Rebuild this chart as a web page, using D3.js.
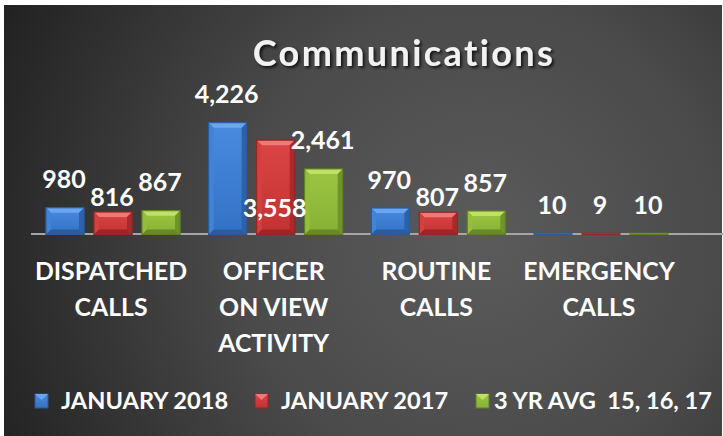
<!DOCTYPE html>
<html><head><meta charset="utf-8">
<script src="https://cdn.jsdelivr.net/npm/d3@7/dist/d3.min.js"></script>
<style>html,body{margin:0;padding:0;background:#fff;overflow:hidden}svg{display:block}</style>
</head><body>
<svg id="chart" width="723" height="436"></svg>
<script>
// ---- data ----
const categories = ["DISPATCHED CALLS", "OFFICER ON VIEW ACTIVITY", "ROUTINE CALLS", "EMERGENCY CALLS"];
const categoryLines = [["DISPATCHED", "CALLS"], ["OFFICER", "ON VIEW", "ACTIVITY"], ["ROUTINE", "CALLS"], ["EMERGENCY", "CALLS"]];
const seriesNames = ["JANUARY 2018", "JANUARY 2017", "3 YR AVG  15, 16, 17"];
const jan2018 = [980, 4226, 970, 10];
const jan2017 = [816, 3558, 807, 9];
const avg3yr = [867, 2461, 857, 10];
const title = "Communications";

// ---- styling / layout ----
const seriesValues = [jan2018, jan2017, avg3yr];
const palette = [
  {face0: "#4a8be0", face1: "#3371c4", top: "#6ba6f0", left: "#4283d6", right: "#2c62ab", bottom: "#2a5c9e", stroke: "#2a5a9a"},
  {face0: "#dc4545", face1: "#c23232", top: "#ee7a78", left: "#d24040", right: "#a82a2a", bottom: "#9c2626", stroke: "#962525"},
  {face0: "#9cc641", face1: "#86b034", top: "#bfe266", left: "#95be3d", right: "#6f9429", bottom: "#678a26", stroke: "#5f7f22"}
];
const W = 723, H = 436;
const svg = d3.select("#chart");
const defs = svg.append("defs");

// background
const bg = defs.append("radialGradient").attr("id", "bg")
  .attr("gradientUnits", "userSpaceOnUse").attr("cx", 480).attr("cy", 240).attr("r", 540);
bg.append("stop").attr("offset", "0%").attr("stop-color", "#5b5b5b");
bg.append("stop").attr("offset", "45%").attr("stop-color", "#4a4a4a");
bg.append("stop").attr("offset", "100%").attr("stop-color", "#202020");
svg.append("rect").attr("x", 0).attr("y", 0).attr("width", W).attr("height", H).attr("fill", "#fff");
svg.append("rect").attr("x", 4).attr("y", 5).attr("width", W - 5).attr("height", H - 5).attr("fill", "url(#bg)");

const sh = defs.append("filter").attr("id", "tshadow").attr("x", "-10%").attr("y", "-30%").attr("width", "130%").attr("height", "170%");
sh.append("feDropShadow").attr("dx", 2).attr("dy", 2).attr("stdDeviation", 1.5).attr("flood-color", "#000").attr("flood-opacity", 0.75);

palette.forEach((p, i) => {
  const g = defs.append("linearGradient").attr("id", "face" + i).attr("x1", 0).attr("y1", 0).attr("x2", 0).attr("y2", 1);
  g.append("stop").attr("offset", "0%").attr("stop-color", p.face0);
  g.append("stop").attr("offset", "100%").attr("stop-color", p.face1);
});

const font = "Lato, 'Open Sans', sans-serif";

// scales
const x0 = d3.scaleBand().domain(categories).range([31.7, 682.3]).paddingInner(0.1148).paddingOuter(0.0574);
const x1 = d3.scaleBand().domain(seriesNames).range([0, x0.bandwidth()]).paddingInner(0.208).paddingOuter(0.104);
const y = d3.scaleLinear().domain([0, 5000]).range([233.5, 102.4]);

// title
svg.append("text").attr("x", 404).attr("y", 66).attr("text-anchor", "middle")
  .attr("font-family", font).attr("font-weight", 700).attr("font-size", 36).attr("letter-spacing", 2.4)
  .attr("fill", "#f2f2f2").attr("filter", "url(#tshadow)").text(title);

// axis line
svg.append("line").attr("x1", 31).attr("x2", W).attr("y1", y(0) + 0.5).attr("y2", y(0) + 0.5)
  .attr("stroke", "#a6a6a6").attr("stroke-width", 2);

// bars
function drawBar(g, x, w, yTop, yBot, p, i) {
  const h = yBot - yTop;
  const b = Math.min(5, h / 2, w / 2);
  g.append("rect").attr("x", x).attr("y", yTop).attr("width", w).attr("height", Math.max(h, 0))
    .attr("fill", "url(#face" + i + ")").attr("stroke", p.stroke).attr("stroke-width", 1);
  if (h < 2) return;
  const x2 = x + w;
  g.append("polygon").attr("points", [[x, yTop], [x2, yTop], [x2 - b, yTop + b], [x + b, yTop + b]].join(" ")).attr("fill", p.top);
  g.append("polygon").attr("points", [[x, yTop], [x + b, yTop + b], [x + b, yBot - b], [x, yBot]].join(" ")).attr("fill", p.left);
  g.append("polygon").attr("points", [[x2, yTop], [x2 - b, yTop + b], [x2 - b, yBot - b], [x2, yBot]].join(" ")).attr("fill", p.right);
  g.append("polygon").attr("points", [[x, yBot], [x + b, yBot - b], [x2 - b, yBot - b], [x2, yBot]].join(" ")).attr("fill", p.bottom);
  g.append("rect").attr("x", x).attr("y", yTop).attr("width", w).attr("height", h)
    .attr("fill", "none").attr("stroke", p.stroke).attr("stroke-width", 1);
}

const barsG = svg.append("g");
const labelsG = svg.append("g");
const fmt = d3.format(",");
// label placement tweaks (as in the reference, some labels were moved)
function labelY(ci, si, v) {
  const top = y(v);
  if (ci === 1 && si === 1) return y(0) - 17;           // 3,558 drawn inside lower part of bar
  if ((ci === 0 || ci === 2) && si === 1) return top - 6; // 816 / 807 lowered
  return top - 19.5;
}
categories.forEach((c, ci) => {
  seriesNames.forEach((s, si) => {
    const v = seriesValues[si][ci];
    const bx = x0(c) + x1(s);
    drawBar(barsG, bx, x1.bandwidth(), y(v), y(0) + 1, palette[si], si);
    labelsG.append("text").attr("x", bx + x1.bandwidth() / 2 - 1).attr("y", labelY(ci, si, v))
      .attr("text-anchor", "middle").attr("font-family", font).attr("font-weight", 700)
      .attr("font-size", 25).attr("fill", "#ffffff").text(fmt(v));
  });
});

// category labels
categories.forEach((c, ci) => {
  const t = svg.append("text").attr("text-anchor", "middle").attr("font-family", font)
    .attr("font-weight", 700).attr("font-size", 24.8).attr("fill", "#ffffff");
  categoryLines[ci].forEach((ln, li) => {
    t.append("tspan").attr("x", x0(c) + x0.bandwidth() / 2 - 2).attr("y", 280 + li * 36).text(ln);
  });
});

// legend
const legendX = [35, 255, 476];
const legendGap = [13, 13, 5];
seriesNames.forEach((s, si) => {
  const p = palette[si];
  const mx = legendX[si], my = 394, mw = 13, mh = 14;
  const g = svg.append("g");
  g.append("rect").attr("x", mx).attr("y", my).attr("width", mw).attr("height", mh).attr("fill", "url(#face" + si + ")").attr("stroke", p.stroke);
  g.append("polygon").attr("points", [[mx, my], [mx + mw, my], [mx + mw / 2, my + 6]].join(" ")).attr("fill", p.top);
  g.append("text").attr("x", mx + mw + legendGap[si]).attr("y", 409).attr("font-family", font)
    .attr("font-weight", 700).attr("font-size", 23.6).attr("fill", "#ffffff")
    .style("white-space", "pre").text(s);
});
</script>
</body></html>
